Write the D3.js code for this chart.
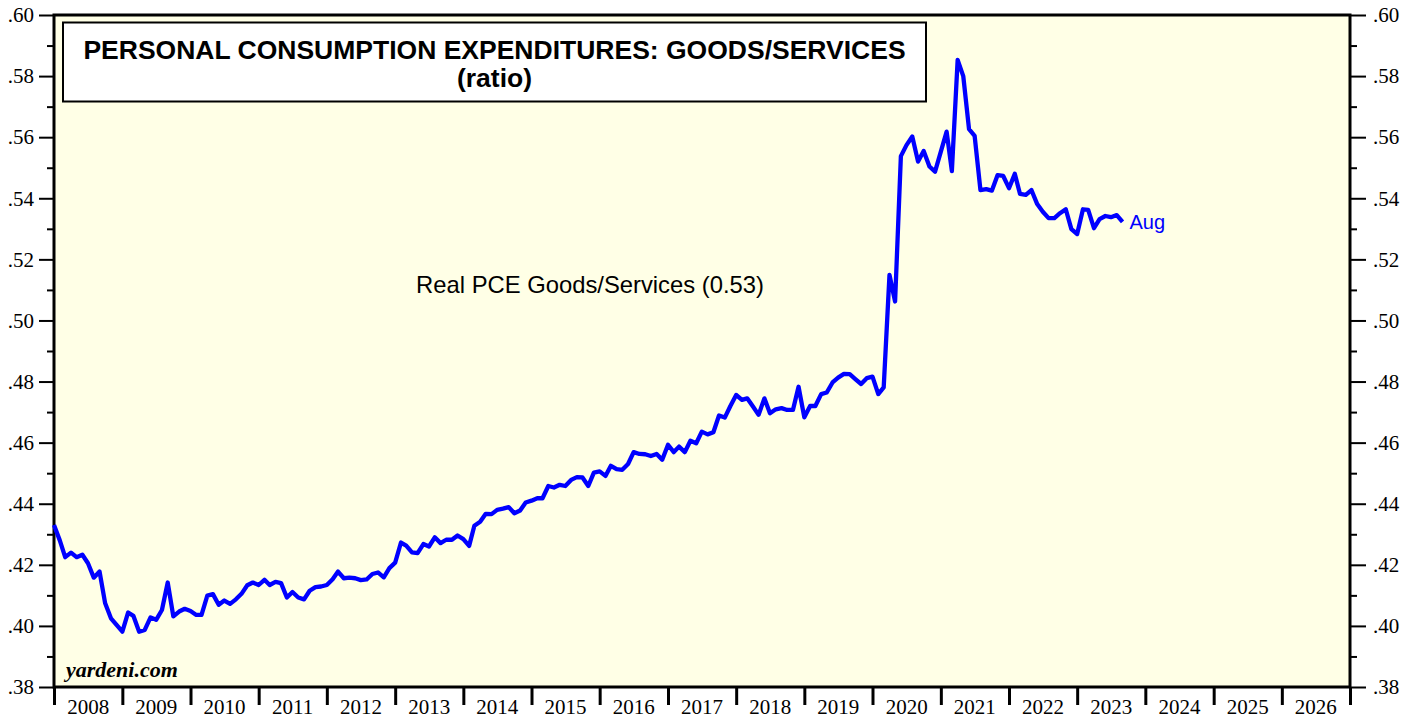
<!DOCTYPE html>
<html>
<head>
<meta charset="utf-8">
<script src="https://cdn.jsdelivr.net/npm/d3@7"></script>
<style>
  body { margin: 0; background: #fff; overflow: hidden; }
  svg { display: block; }
  .tick-label { font-family: "Liberation Serif", "Times New Roman", serif; font-size: 21px; fill: #000; }
  .sans { font-family: "Liberation Sans", Arial, sans-serif; }
</style>
</head>
<body>
<svg class="chartSVG"></svg>
<script>
const svgWidth = 1418;
const svgHeight = 721;

// monthly ratio, first value is Dec 2007, last is Aug 2023
const firstMonth = "2007-12";
const ratio = [
  .4330, .4280, .4225, .4240, .4225, .4233, .4205, .4158, .4178, .4074, .4025, .4003,
  .3981, .4044, .4033, .3981, .3987, .4028, .4020, .4052, .4142, .4031, .4047, .4056,
  .4049, .4036, .4036, .4099, .4104, .4069, .4083, .4072, .4087, .4105, .4133, .4142,
  .4134, .4151, .4134, .4144, .4140, .4093, .4111, .4093, .4087, .4115, .4127, .4129,
  .4134, .4153, .4178, .4156, .4158, .4156, .4150, .4152, .4170, .4175, .4159, .4189,
  .4207, .4273, .4263, .4241, .4238, .4268, .4260, .4290, .4271, .4282, .4282, .4296,
  .4284, .4262, .4328, .4341, .4367, .4366, .4380, .4384, .4389, .4369, .4378, .4404,
  .4410, .4418, .4418, .4458, .4453, .4462, .4458, .4478, .4487, .4486, .4458, .4502,
  .4506, .4491, .4524, .4513, .4511, .4530, .4569, .4563, .4562, .4556, .4563, .4544,
  .4593, .4569, .4587, .4569, .4606, .4598, .4636, .4627, .4634, .4689, .4682, .4720,
  .4756, .4740, .4745, .4718, .4691, .4745, .4696, .4709, .4713, .4707, .4707, .4783,
  .4683, .4720, .4720, .4759, .4764, .4797, .4813, .4825, .4824, .4808, .4792, .4811,
  .4816, .4759, .4781, .5149, .5062, .5538, .5574, .5602, .5520, .5555, .5504, .5487,
  .5553, .5618, .5489, .5853, .5800, .5626, .5604, .5427, .5430, .5425, .5476, .5473,
  .5433, .5480, .5414, .5411, .5427, .5381, .5356, .5335, .5335, .5351, .5364, .5299,
  .5283, .5364, .5362, .5302, .5332, .5342, .5338, .5345, .5323
];

const years = d3.range(2008, 2027);
const yMajorTicks = [.38, .40, .42, .44, .46, .48, .50, .52, .54, .56, .58, .60];
const yMinorTicks = [.39, .41, .43, .45, .47, .49, .51, .53, .55, .57, .59];

const chartTitle = ["PERSONAL CONSUMPTION EXPENDITURES: GOODS/SERVICES", "(ratio)"];
const seriesLabel = "Real PCE Goods/Services (0.53)";
const lastLabel = "Aug";
const sourceLabel = "yardeni.com";

var margin = {
  top: 15,
  right: 68,
  left: 54,
  bottom: 34
};

var innerHeight = svgHeight - margin.top - margin.bottom;
var innerWidth = svgWidth - margin.right - margin.left;

const svg = d3.select('.chartSVG')
  .attr("width", svgWidth)
  .attr("height", svgHeight);

const graph = svg.append("g")
  .attr("transform", `translate(${margin.left}, ${margin.top})`);

// values are plotted at month end
var start = d3.timeParse("%Y-%m")(firstMonth);
var data = ratio.map(function(v, i) {
  return { date: d3.timeMonth.offset(start, i + 1), value: v };
});

var x = d3.scaleTime()
  .domain([new Date(2008, 0, 1), new Date(2027, 0, 1)])
  .range([0, innerWidth]);

var y = d3.scaleLinear()
  .domain([.38, .60])
  .range([innerHeight, 0]);

var fmt = function(d) { return d3.format(".2f")(d).replace(/^0/, ""); };

// plot background
graph.append("rect")
  .attr("width", innerWidth)
  .attr("height", innerHeight)
  .attr("fill", "#ffffe6");

// left axis
graph.append("g")
  .attr("class", "y-minor")
  .call(d3.axisLeft(y).tickValues(yMinorTicks).tickSize(7).tickSizeOuter(0));
graph.append("g")
  .attr("class", "y-major")
  .call(d3.axisLeft(y).tickValues(yMajorTicks).tickSize(15).tickSizeOuter(0).tickPadding(5).tickFormat(fmt));

// right axis
graph.append("g")
  .attr("class", "y-minor")
  .attr("transform", `translate(${innerWidth}, 0)`)
  .call(d3.axisRight(y).tickValues(yMinorTicks).tickSize(7).tickSizeOuter(0));
graph.append("g")
  .attr("class", "y-major")
  .attr("transform", `translate(${innerWidth}, 0)`)
  .call(d3.axisRight(y).tickValues(yMajorTicks).tickSize(16).tickSizeOuter(0).tickPadding(7).tickFormat(fmt));

// bottom axis: year boundaries, labels in the middle of each year
var yearStarts = years.map(function(d) { return new Date(d, 0, 1); }).concat([new Date(2027, 0, 1)]);
graph.append("g")
  .attr("class", "x-axis")
  .attr("transform", `translate(0, ${innerHeight})`)
  .call(d3.axisBottom(x).tickValues(yearStarts).tickSize(18).tickSizeOuter(0));

// tick marks only on these, no text
svg.selectAll(".y-minor .tick text, .x-axis .tick text").remove();

graph.append("g")
  .selectAll("text")
  .data(years)
  .join("text")
    .attr("class", "tick-label")
    .attr("x", function(d) { return x(new Date(d, 6, 2)); })
    .attr("y", innerHeight + 27)
    .attr("text-anchor", "middle")
    .text(function(d) { return d; });

svg.selectAll(".domain").remove();
svg.selectAll(".tick line").attr("stroke", "#000").attr("stroke-width", 2);
svg.selectAll(".x-axis .tick line").attr("stroke-width", 3);
svg.selectAll(".y-major .tick text")
  .attr("class", "tick-label")
  .attr("dy", "0.32em")
  .attr("font-family", null)
  .attr("font-size", null)
  .attr("fill", "#000");
svg.selectAll(".y-major").attr("font-family", null).attr("font-size", null);

// frame
graph.append("rect")
  .attr("width", innerWidth)
  .attr("height", innerHeight)
  .attr("fill", "none")
  .attr("stroke", "#000")
  .attr("stroke-width", 3);

// title box
var titleBox = graph.append("g")
  .attr("transform", "translate(9, 7.5)");
titleBox.append("rect")
  .attr("width", 863)
  .attr("height", 79)
  .attr("fill", "#fff")
  .attr("stroke", "#000")
  .attr("stroke-width", 2);
titleBox.selectAll("text")
  .data(chartTitle)
  .join("text")
    .attr("class", "sans")
    .attr("x", 863 / 2)
    .attr("y", function(d, i) { return 36 + i * 28; })
    .attr("text-anchor", "middle")
    .attr("font-weight", "bold")
    .attr("font-size", "26.5px")
    .attr("fill", "#000")
    .text(function(d) { return d; });

// series line
graph.append("path")
  .datum(data)
  .attr("fill", "none")
  .attr("stroke", "#0000ff")
  .attr("stroke-width", 4.3)
  .attr("stroke-linejoin", "round")
  .attr("d", d3.line()
    .x(function(d) { return x(d.date); })
    .y(function(d) { return y(d.value); }));

var last = data[data.length - 1];
graph.append("text")
  .attr("class", "sans")
  .attr("x", x(last.date) + 7)
  .attr("y", y(last.value) + 7)
  .attr("font-size", "20px")
  .attr("fill", "#0000ff")
  .text(lastLabel);

graph.append("text")
  .attr("class", "sans")
  .attr("x", 536)
  .attr("y", 278)
  .attr("text-anchor", "middle")
  .attr("font-size", "23.8px")
  .attr("fill", "#000")
  .text(seriesLabel);

graph.append("text")
  .attr("x", 12)
  .attr("y", 662)
  .style("font-family", "'Liberation Serif', 'Times New Roman', serif")
  .style("font-weight", "bold")
  .style("font-style", "italic")
  .style("font-size", "22px")
  .attr("fill", "#000")
  .text(sourceLabel);
</script>
</body>
</html>
